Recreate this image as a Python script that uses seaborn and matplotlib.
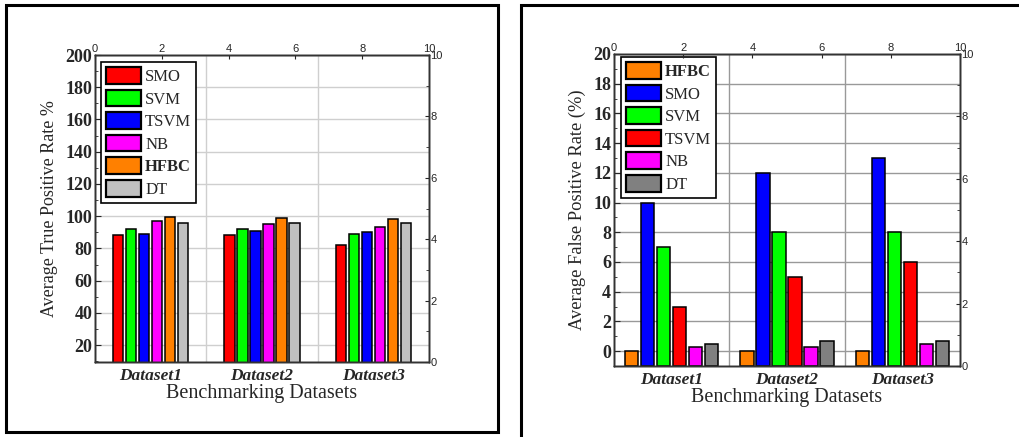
import pandas as pd
import numpy as np
import matplotlib.pyplot as plt
import seaborn as sns
from matplotlib.patches import Patch, Rectangle
from matplotlib.ticker import MultipleLocator, FixedLocator

sns.set_style("white")
plt.rcParams['font.family'] = ['Liberation Serif', 'DejaVu Serif']

datasets = ['Dataset1', 'Dataset2', 'Dataset3']

# 左图：平均真正率
tpr_methods = ['SMO', 'SVM', 'TSVM', 'NB', 'HFBC', 'DT']
tpr_colors = ['#ff0000', '#00ff00', '#0000ff', '#ff00ff', '#ff8000', '#c0c0c0']
tpr_smo = [88, 88, 82]
tpr_svm = [92, 92, 89]
tpr_tsvm = [89, 91, 90]
tpr_nb = [97, 95, 93]
tpr_hfbc = [99.5, 99, 98]
tpr_dt = [96, 96, 96]

# 右图：平均假正率
fpr_methods = ['HFBC', 'SMO', 'SVM', 'TSVM', 'NB', 'DT']
fpr_colors = ['#ff8000', '#0000ff', '#00ff00', '#ff0000', '#ff00ff', '#808080']
fpr_hfbc = [0, 0, 0]
fpr_smo = [10, 12, 13]
fpr_svm = [7, 8, 8]
fpr_tsvm = [3, 5, 6]
fpr_nb = [0.3, 0.3, 0.45]
fpr_dt = [0.5, 0.65, 0.7]


def to_long(methods, series):
    rows = []
    for m, vals in zip(methods, series):
        for d, v in zip(datasets, vals):
            rows.append({'dataset': d, 'method': m, 'value': v})
    return pd.DataFrame(rows)


df_tpr = to_long(tpr_methods, [tpr_smo, tpr_svm, tpr_tsvm, tpr_nb, tpr_hfbc, tpr_dt])
df_fpr = to_long(fpr_methods, [fpr_hfbc, fpr_smo, fpr_svm, fpr_tsvm, fpr_nb, fpr_dt])

fig = plt.figure(figsize=(10.2, 4.37), dpi=100)

# 外框
fig.add_artist(Rectangle((6 / 1020, 1 - 432 / 437), 492 / 1020, 427 / 437,
                         transform=fig.transFigure, fill=False, lw=2.2, ec='black'))
fig.add_artist(Rectangle((521 / 1020, -0.05), 0.6, 1 - 5 / 437 + 0.05,
                         transform=fig.transFigure, fill=False, lw=2.2, ec='black'))


def draw_panel(rect, df, methods, colors, ylim, major, minor, ylabel, ylabel_size,
               width, gap, grid_color, legend_anchor, bottom_fill=False):
    ax = fig.add_axes(rect)
    sns.barplot(data=df, x='dataset', y='value', hue='method', hue_order=methods,
                palette=colors, width=width, gap=gap, edgecolor='black',
                linewidth=1.1, saturation=1, legend=False, ax=ax)
    if bottom_fill:
        for p in ax.patches:
            h = p.get_height()
            p.set_y(ylim[0])
            p.set_height(h - ylim[0])
    ax.set_ylim(*ylim)
    ax.set_xlim(-0.5, 2.5)
    ax.yaxis.set_major_locator(MultipleLocator(major))
    ax.yaxis.set_minor_locator(MultipleLocator(minor))
    ax.xaxis.set_minor_locator(FixedLocator([0.5, 1.5]))
    ax.set_axisbelow(True)
    ax.grid(True, which='major', axis='y', color=grid_color, lw=1.0)
    ax.grid(True, which='minor', axis='x', color=grid_color, lw=1.0)
    ax.tick_params(axis='y', which='major', direction='in', length=4, labelsize=13, pad=2)
    ax.tick_params(axis='y', which='minor', direction='in', length=2)
    ax.tick_params(axis='x', which='both', length=0, labelsize=12.5, pad=4)
    for lab in ax.get_yticklabels():
        lab.set_fontweight('bold')
    for lab in ax.get_xticklabels():
        lab.set_fontweight('bold')
        lab.set_fontstyle('italic')
    ax.set_xlabel('Benchmarking Datasets', fontsize=14.5, labelpad=0)
    ax.set_ylabel(ylabel, fontsize=ylabel_size, labelpad=5)
    for s in ax.spines.values():
        s.set_color('#333333')
        s.set_linewidth(1.0)

    handles = [Patch(facecolor=c, edgecolor='black', lw=1.6) for c in colors]
    leg = ax.legend(handles, methods, loc='upper left', bbox_to_anchor=legend_anchor,
                    fontsize=12, frameon=True, fancybox=False, framealpha=1,
                    edgecolor='black', handlelength=2.1, handleheight=1.15,
                    labelspacing=0.28, borderpad=0.3, handletextpad=0.25,
                    borderaxespad=0)
    leg.get_frame().set_linewidth(1.2)
    leg.set_zorder(10)
    for t in leg.get_texts():
        if t.get_text() == 'HFBC':
            t.set_fontweight('bold')

    # 次坐标轴（0-10）
    axr = ax.twinx()
    axr.set_ylim(0, 10)
    axr.yaxis.set_major_locator(MultipleLocator(2))
    axr.yaxis.set_minor_locator(MultipleLocator(1))
    axr.tick_params(axis='y', which='major', direction='in', length=3, labelsize=8, pad=1)
    axr.tick_params(axis='y', which='minor', direction='in', length=2)
    axt = ax.twiny()
    axt.set_xlim(0, 10)
    axt.xaxis.set_major_locator(MultipleLocator(2))
    axt.tick_params(axis='x', which='major', direction='in', length=3, labelsize=8, pad=1)
    for a in (axr, axt):
        for lab in a.get_xticklabels() + a.get_yticklabels():
            lab.set_fontfamily('Liberation Sans')
        for s in a.spines.values():
            s.set_color('#333333')
            s.set_linewidth(1.0)
    return ax


draw_panel([95 / 1020, 1 - 362 / 437, 334 / 1020, 307 / 437], df_tpr, tpr_methods,
           tpr_colors, (9.5, 200), 20, 10, 'Average True Positive Rate %', 13,
           0.70, 0.2, '#cfcfcf', (0.018, 0.977))
draw_panel([614 / 1020, 1 - 366 / 437, 346 / 1020, 312 / 437], df_fpr, fpr_methods,
           fpr_colors, (-1, 20), 2, 1, 'Average False Positive Rate (%)', 13.3,
           0.83, 0.17, '#999999', (0.02, 0.99), bottom_fill=True)

fig.savefig('out.png', dpi=100)
